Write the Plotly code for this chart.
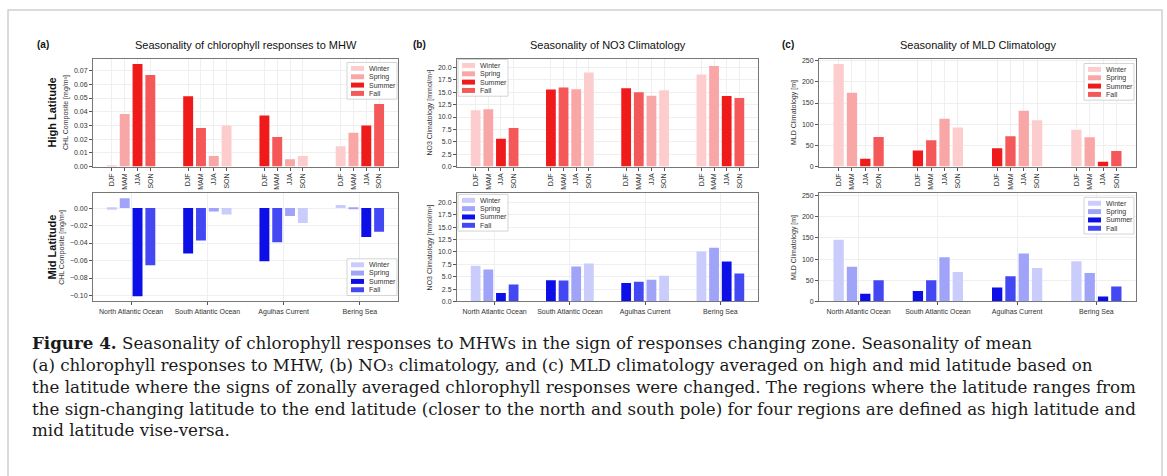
import plotly.graph_objects as go

# ---------------- data ----------------
regions = ["North Atlantic Ocean", "South Atlantic Ocean", "Agulhas Current", "Bering Sea"]
seasons = ["DJF", "MAM", "JJA", "SON"]
season_names = ["Winter", "Spring", "Summer", "Fall"]
class_north = ["Winter", "Spring", "Summer", "Fall"]
class_south = ["Summer", "Fall", "Spring", "Winter"]
region_classes = [class_north, class_south, class_south, class_north]

chl_high = [[0.0010, 0.0384, 0.0748, 0.0668],
            [0.0513, 0.0281, 0.0077, 0.0300],
            [0.0373, 0.0216, 0.0053, 0.0077],
            [0.0149, 0.0247, 0.0300, 0.0456]]
chl_mid = [[-0.0019, 0.0113, -0.1008, -0.0653],
           [-0.0520, -0.0370, -0.0040, -0.0075],
           [-0.0608, -0.0392, -0.0090, -0.0170],
           [0.0035, -0.0005, -0.0332, -0.0272]]
no3_high = [[11.35, 11.55, 5.60, 7.77],
            [15.54, 15.95, 15.60, 18.99],
            [15.80, 15.00, 14.30, 15.40],
            [18.60, 20.27, 14.26, 13.85]]
no3_mid = [[7.20, 6.46, 1.68, 3.43],
           [4.30, 4.24, 7.07, 7.68],
           [3.70, 3.97, 4.38, 5.19],
           [10.10, 10.84, 8.08, 5.66]]
mld_high = [[242.0, 174.0, 18.6, 70.0],
            [38.0, 62.0, 112.6, 92.4],
            [43.5, 71.4, 132.0, 109.5],
            [87.0, 69.0, 11.6, 36.5]]
mld_mid = [[145.6, 81.8, 17.9, 49.8],
           [24.9, 49.8, 104.4, 69.3],
           [32.7, 59.2, 113.0, 78.7],
           [95.0, 67.0, 11.7, 35.0]]

panel_titles = ["Seasonality of chlorophyll responses to MHW",
                "Seasonality of NO3 Climatology",
                "Seasonality of MLD Climatology"]
panel_letters = ["(a)", "(b)", "(c)"]
row_labels = ["High Latitude", "Mid Latitude"]
y_titles = ["CHL Composite [mg/m³]",
            "NO3 Climatology [mmol/m³]",
            "MLD Climatology [m]"]

caption_lines = [
    "<b>Figure 4.</b> Seasonality of chlorophyll responses to MHWs in the sign of responses changing zone. Seasonality of mean",
    "(a) chlorophyll responses to MHW, (b) NO₃ climatology, and (c) MLD climatology averaged on high and mid latitude based on",
    "the latitude where the signs of zonally averaged chlorophyll responses were changed. The regions where the latitude ranges from",
    "the sign-changing latitude to the end latitude (closer to the north and south pole) for four regions are defined as high latitude and",
    "mid latitude vise-versa.",
]

# ---------------- style ----------------
W, H = 1167, 476
FONT = "Liberation Sans"
red = {"Winter": "#fdcdcd", "Spring": "#f9a6a6", "Summer": "#ef1b1b", "Fall": "#f45858"}
blue = {"Winter": "#cacdfb", "Spring": "#a0a4f8", "Summer": "#0c10e6", "Fall": "#4448f3"}
offsets = [-0.252, -0.084, 0.084, 0.252]
bar_w = 0.13

cols_px = [(93, 398), (457, 758), (819, 1136)]
rows_px = [(58, 167), (194, 303)]


def px(x):
    return x / W


def py(y):
    return 1 - y / H


panels = [
    dict(r=0, c=0, data=chl_high, pal=red, yr=[0, 0.0788], dt=0.01, fmt=".2f", leg=(347, 62)),
    dict(r=1, c=0, data=chl_mid, pal=blue, yr=[-0.1068, 0.0168], dt=0.02, fmt=".2f", leg=(347, 260)),
    dict(r=0, c=1, data=no3_high, pal=red, yr=[0, 21.8], dt=2.5, fmt=".1f", leg=(458, 59)),
    dict(r=1, c=1, data=no3_mid, pal=blue, yr=[0, 21.8], dt=2.5, fmt=".1f", leg=(458, 195)),
    dict(r=0, c=2, data=mld_high, pal=red, yr=[0, 255], dt=50, fmt="d", leg=(1084, 63)),
    dict(r=1, c=2, data=mld_mid, pal=blue, yr=[0, 255], dt=50, fmt="d", leg=(1084, 198)),
]

fig = go.Figure()
shapes = []
annotations = []
layout = {}

for i, p in enumerate(panels):
    n = i + 1
    xa = "x" if n == 1 else f"x{n}"
    ya = "y" if n == 1 else f"y{n}"
    for name in season_names:
        xs, ys = [], []
        for g, reg in enumerate(regions):
            for s in range(4):
                if region_classes[g][s] == name:
                    xs.append(g + offsets[s])
                    ys.append(p["data"][g][s])
        fig.add_trace(go.Bar(x=xs, y=ys, width=bar_w, name=name, xaxis=xa, yaxis=ya,
                             marker=dict(color=p["pal"][name], line=dict(width=0)),
                             showlegend=False))
    x0, x1 = cols_px[p["c"]]
    y0, y1 = rows_px[p["r"]]
    if p["r"] == 0:
        tv = [g + offsets[s] for g in range(4) for s in range(4)]
        tt = [seasons[s] for g in range(4) for s in range(4)]
        tangle = -90
    else:
        tv = list(range(4))
        tt = regions
        tangle = 0
    layout["xaxis" if n == 1 else f"xaxis{n}"] = dict(
        domain=[px(x0), px(x1)], anchor=ya, range=[-0.5, 3.5],
        tickvals=tv, ticktext=tt, tickangle=tangle,
        tickfont=dict(size=7, color="#333", family=FONT),
        ticks="outside", ticklen=3, tickcolor="#555",
        showline=True, linecolor="#777", linewidth=1, mirror=True,
        showgrid=True, gridcolor="#efefef", gridwidth=1, zeroline=False)
    layout["yaxis" if n == 1 else f"yaxis{n}"] = dict(
        domain=[py(y1), py(y0)], anchor=xa, range=p["yr"], dtick=p["dt"], tick0=0,
        tickformat=p["fmt"], tickfont=dict(size=7, color="#333", family=FONT),
        ticks="outside", ticklen=3, tickcolor="#555",
        showline=True, linecolor="#777", linewidth=1, mirror=True,
        showgrid=True, gridcolor="#efefef", gridwidth=1, zeroline=False,
        title=dict(text=y_titles[p["c"]], standoff=4,
                   font=dict(size=7, color="#333", family=FONT)))

    # legend box
    lx, ly = p["leg"]
    bw, bh = 50, 37
    shapes.append(dict(type="rect", xref="paper", yref="paper",
                       x0=px(lx), x1=px(lx + bw), y0=py(ly + bh), y1=py(ly),
                       fillcolor="rgba(255,255,255,0.85)", line=dict(color="#d4d4d4", width=1)))
    for k, name in enumerate(season_names):
        cy = ly + 6 + 8.4 * k
        shapes.append(dict(type="rect", xref="paper", yref="paper",
                           x0=px(lx + 4), x1=px(lx + 17), y0=py(cy + 2.5), y1=py(cy - 2.5),
                           fillcolor=p["pal"][name], line=dict(width=0)))
        annotations.append(dict(text=name, xref="paper", yref="paper", x=px(lx + 20), y=py(cy),
                                xanchor="left", yanchor="middle", showarrow=False,
                                font=dict(size=7, color="#333", family=FONT)))

# panel titles and letters
letter_x = [43, 419, 788]
for c in range(3):
    x0, x1 = cols_px[c]
    annotations.append(dict(text=panel_titles[c], xref="paper", yref="paper",
                            x=px((x0 + x1) / 2), y=py(44), xanchor="center", yanchor="middle",
                            showarrow=False, font=dict(size=11, color="#111", family=FONT)))
    annotations.append(dict(text=panel_letters[c], xref="paper", yref="paper",
                            x=px(letter_x[c]), y=py(44), xanchor="center", yanchor="middle",
                            showarrow=False,
                            font=dict(size=10, color="#111", family=FONT, weight="bold")))

# row labels
for r in range(2):
    y0, y1 = rows_px[r]
    annotations.append(dict(text=row_labels[r], xref="paper", yref="paper",
                            x=px(52), y=py((y0 + y1) / 2), xanchor="center", yanchor="middle",
                            textangle=-90, showarrow=False,
                            font=dict(size=11, color="#111", family=FONT, weight="bold")))

# caption
for k, line in enumerate(caption_lines):
    annotations.append(dict(text=line, xref="paper", yref="paper",
                            x=px(30), y=py(345 + 22 * k), xanchor="left", yanchor="middle",
                            showarrow=False,
                            font=dict(size=16.7, color="#1a1a1a", family="DejaVu Serif")))

# outer frame
shapes.append(dict(type="rect", xref="paper", yref="paper",
                   x0=px(8), x1=px(1162), y0=-0.05, y1=py(9),
                   line=dict(color="#cfcfcf", width=1.5), fillcolor="rgba(0,0,0,0)", layer="below"))

fig.update_layout(width=W, height=H, margin=dict(l=0, r=0, t=0, b=0),
                  paper_bgcolor="white", plot_bgcolor="white",
                  barmode="overlay", showlegend=False,
                  font=dict(family=FONT), shapes=shapes, annotations=annotations, **layout)

fig.write_html("out.html")
